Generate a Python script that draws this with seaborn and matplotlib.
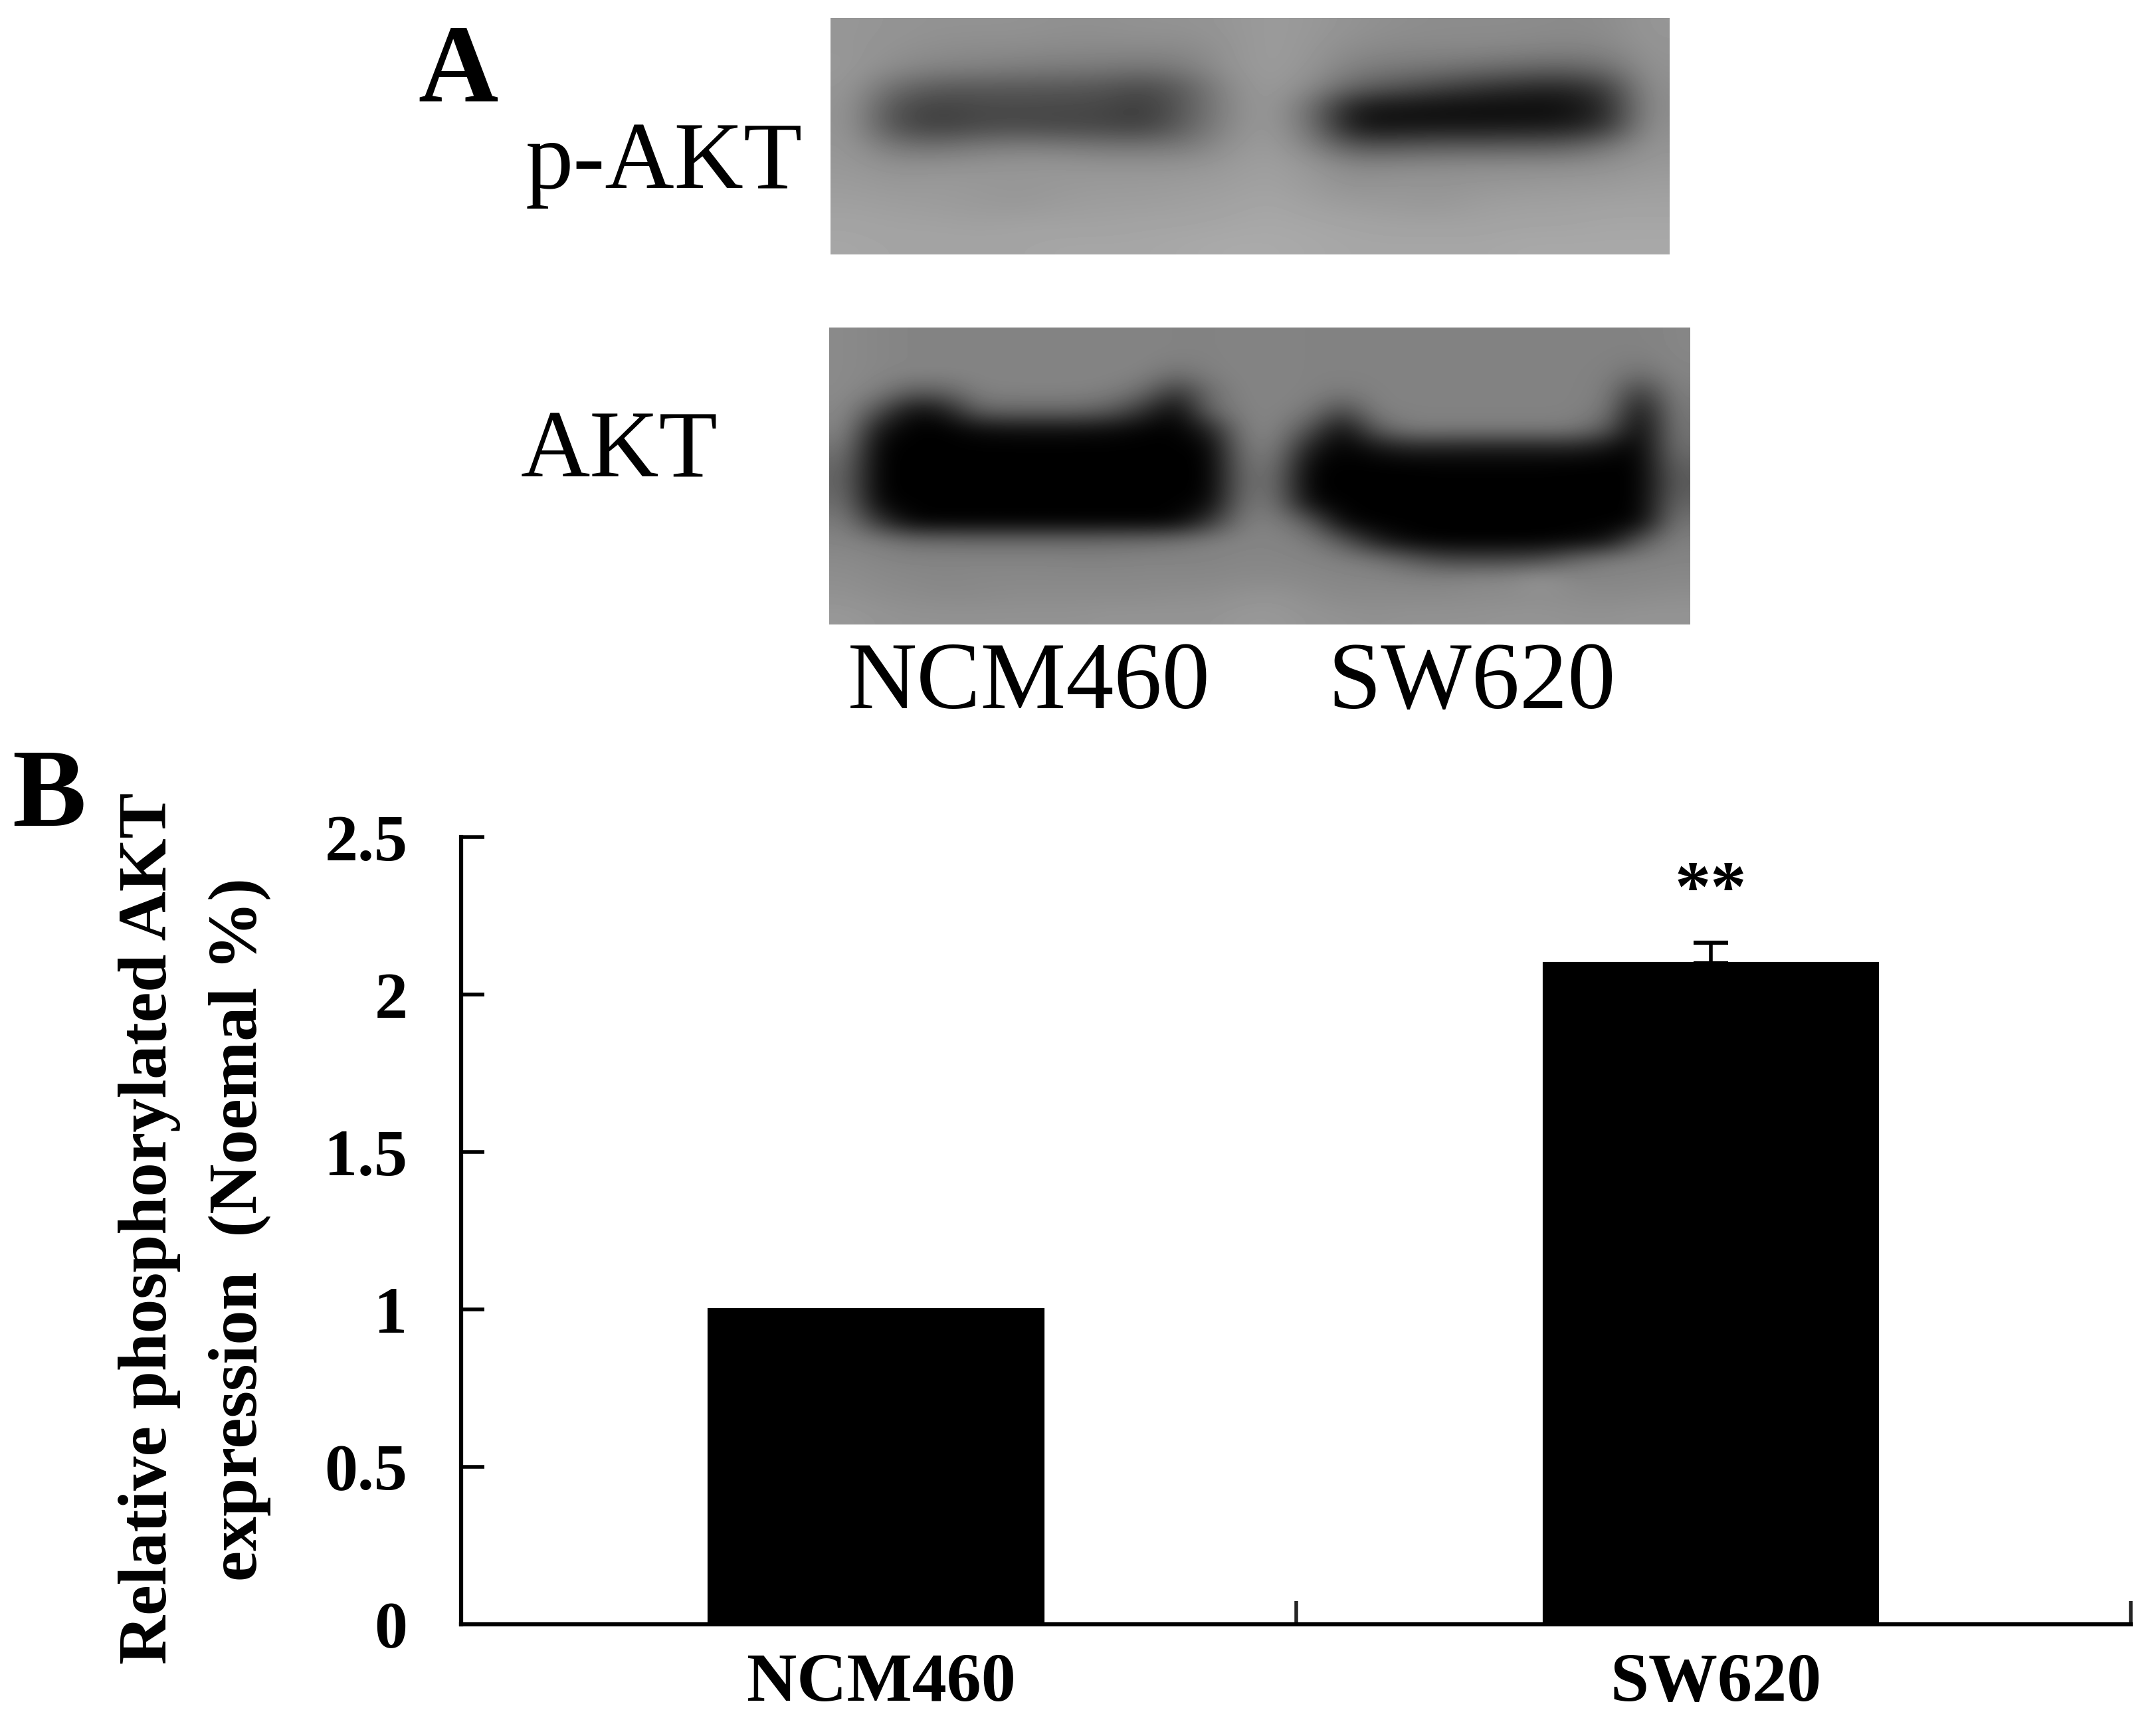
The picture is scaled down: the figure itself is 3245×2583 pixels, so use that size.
import numpy as np
import pandas as pd
import seaborn as sns
import matplotlib
matplotlib.use("Agg")
import matplotlib.pyplot as plt
from matplotlib.transforms import ScaledTranslation

W, H = 3245, 2583

groups = ["NCM460", "SW620"]
values = [1.0, 2.1]
errors = [0, 0.065]
y_ticks = [0, 0.5, 1, 1.5, 2, 2.5]
y_tick_labels = ["0", "0.5", "1", "1.5", "2", "2.5"]

# grey levels
pakt_blot = [
    [150,148,146,146,146,144,144,146,146,150,155,152,146,142,140,140,140,138,140,150],
    [150,146,142,140,140,138,138,138,138,148,156,150,140,136,136,136,134,132,134,148],
    [152,140,132,130,126,124,122,118,126,148,156,148,128,122,118,112,106,102,112,146],
    [150,110,92,90,90,88,86,74,96,140,156,138,100,85,70,55,45,40,62,144],
    [148,82,64,72,72,72,70,58,92,136,156,110,26,20,14,12,12,12,40,142],
    [148,80,62,72,74,70,70,62,98,138,156,112,18,18,22,22,24,26,50,145],
    [150,118,112,122,126,124,118,118,122,146,158,130,85,88,92,92,94,96,118,148],
    [152,145,146,148,150,150,148,148,148,154,160,150,136,138,140,142,142,142,146,152],
    [156,152,154,152,150,152,154,154,156,158,162,154,146,150,148,150,152,154,154,158],
    [160,158,156,154,152,156,158,158,160,162,166,160,156,154,152,158,160,160,162,162],
    [164,162,162,160,162,162,162,164,164,166,168,166,164,162,162,162,164,164,166,166],
    [166,164,164,164,164,166,166,166,168,170,170,168,166,166,166,166,168,168,168,168],
]
akt_blot = [
    [138,134,132,132,132,132,132,132,132,132,130,130,132,132,130,130,130,130,130,130,130,130,130,130,130,134],
    [138,134,132,132,132,132,132,132,132,132,130,130,132,132,130,130,130,130,130,130,130,130,130,130,128,134],
    [138,134,132,132,132,132,132,132,132,130,112,128,132,132,130,130,130,130,130,130,130,130,130,128,110,132],
    [138,126,92,98,128,130,130,130,126,108,50,112,132,132,130,122,130,130,130,130,130,130,130,126,55,128],
    [136,80,14,28,100,104,104,104,92,50,5,105,130,132,122,70,128,130,130,130,130,130,130,120,14,122],
    [132,22,0,0,12,16,16,16,12,4,0,35,128,132,82,10,92,124,124,124,124,124,122,90,0,118],
    [118,2,0,0,0,0,0,0,0,0,0,4,120,126,30,0,20,34,32,30,30,30,32,18,0,112],
    [105,0,0,0,0,0,0,0,0,0,0,0,112,114,4,0,0,0,2,2,2,2,0,0,0,98],
    [102,0,0,0,0,0,0,0,0,0,0,0,110,108,0,0,0,0,0,0,0,0,0,0,0,92],
    [110,6,0,0,0,0,0,0,0,0,0,8,116,116,12,0,0,0,0,0,0,0,0,0,0,102],
    [124,55,4,2,2,2,2,2,2,2,4,55,126,128,95,8,0,0,0,0,0,0,0,0,4,118],
    [132,125,112,110,108,108,108,108,110,112,118,128,132,132,125,90,30,5,0,0,0,0,5,15,90,128],
    [138,134,132,132,132,132,132,130,130,132,132,132,134,134,132,128,118,95,72,68,70,75,105,125,130,132],
    [142,138,136,134,136,136,136,136,136,136,136,136,138,138,136,134,134,132,130,135,136,150,135,134,134,136],
    [146,142,140,138,138,140,140,140,140,140,142,142,146,148,142,138,138,138,138,140,140,142,140,138,140,142],
    [152,148,146,146,146,146,146,146,148,148,148,148,152,152,148,146,144,146,146,146,148,148,146,146,148,148],
]

sns.set_theme(style="white")
plt.rcParams["font.family"] = ["Liberation Serif", "DejaVu Serif"]

fig = plt.figure(figsize=(W / 100, H / 100), dpi=100)


def box(x0, y0, x1, y1):
    return [x0 / W, 1 - y1 / H, (x1 - x0) / W, (y1 - y0) / H]


def label(x, y, s, size, **kw):
    fig.text(x / W, 1 - y / H, s, fontsize=size, color="black", va="baseline", **kw)


# panel A
for grid, rect in [(pakt_blot, (1250, 27, 2512, 383)), (akt_blot, (1248, 493, 2544, 940))]:
    blot = fig.add_axes(box(*rect))
    blot.imshow(np.array(grid), cmap="gray", vmin=0, vmax=255, aspect="auto",
                interpolation="bicubic")
    blot.axis("off")

label(629, 153, "A", 120, fontweight="bold")
label(791, 283, "p-AKT", 104)
label(784, 718, "AKT", 104)
label(1276, 1066, "NCM460", 104)
label(1998, 1066, "SW620", 104)

# panel B
label(18, 1243, "B", 120, fontweight="bold")

ax = fig.add_axes(box(694, 1260, 3207, 2445))
df = pd.DataFrame({"group": groups, "value": values})
sns.barplot(data=df, x="group", y="value", color="black", saturation=1, width=0.4,
            edgecolor="black", linewidth=3, ax=ax)
ax.errorbar([1], [values[1]], yerr=[[0], [errors[1]]], color="black", elinewidth=4,
            capsize=19, capthick=4.5, zorder=1)
ax.text(1, 2.32, "**", ha="center", va="center", fontsize=78, fontweight="bold", color="black")

ax.set_xlim(-0.497, 1.503)
ax.set_ylim(0, 2.5)
ax.set_yticks(y_ticks, y_tick_labels, fontsize=72, fontweight="bold")
ax.set_xticks([0, 1], groups, fontsize=75, fontweight="bold")
ax.set_xticks([0.503, 1.503], minor=True)
ax.set_xlabel("")
ax.set_ylabel("")
ax.tick_params(axis="y", direction="in", length=25, width=4, pad=58, left=True, colors="black")
ax.tick_params(axis="x", which="major", length=0, pad=31, colors="black")
ax.tick_params(axis="x", which="minor", direction="in", length=25, width=4, bottom=True)
# group names sit a little right of the bar centres in the original
for tick_label in ax.get_xticklabels():
    tick_label.set_transform(tick_label.get_transform() + ScaledTranslation(0.08, 0, fig.dpi_scale_trans))
for side in ["top", "right"]:
    ax.spines[side].set_visible(False)
for side in ["left", "bottom"]:
    ax.spines[side].set_linewidth(4.5)
    ax.spines[side].set_color("black")

fig.text(225 / W, 1 - 1849 / H, "Relative phosphorylated AKT", rotation=90, ha="center",
         va="center", fontsize=74, fontweight="bold", color="black")
fig.text(361 / W, 1 - 1850 / H, "expression  (Noemal %)", rotation=90, ha="center",
         va="center", fontsize=75, fontweight="bold", color="black")

fig.savefig("out.png", dpi=100, facecolor="white")
